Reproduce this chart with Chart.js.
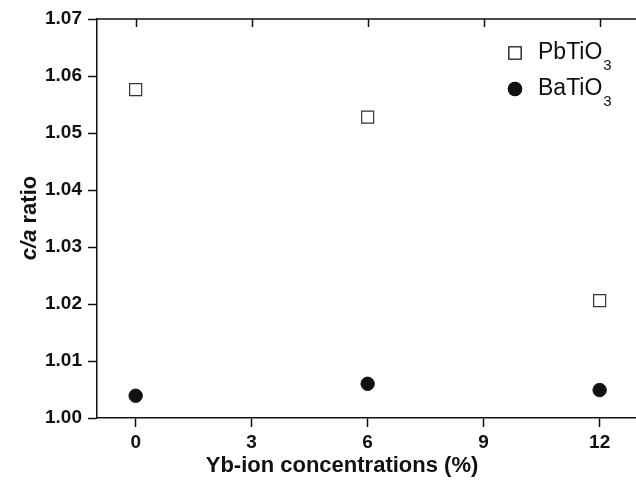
<!DOCTYPE html>
<html>
<head>
<meta charset="utf-8">
<script src="https://cdn.jsdelivr.net/npm/chart.js@4"></script>
<style>
  html, body { margin: 0; padding: 0; background: #fff; overflow: hidden; }
  #wrap { width: 648px; height: 493px; }
</style>
</head>
<body>
<div id="wrap"><canvas id="chart" width="648" height="493"></canvas></div>
<script>
// data
const concentrations = [0, 6, 12];
const pbTiO3 = [1.0576, 1.0528, 1.0206];
const baTiO3 = [1.0039, 1.0060, 1.0049];
const xTicks = [0, 3, 6, 9, 12];
const yTicks = [1.00, 1.01, 1.02, 1.03, 1.04, 1.05, 1.06, 1.07];

const FONT = "'Liberation Sans', Arial, Helvetica, sans-serif";

function points(ys) {
  return concentrations.map((c, i) => ({ x: c, y: ys[i] }));
}

// top frame with inward ticks, axis titles and the legend
const decorations = {
  id: 'decorations',
  afterDraw(chart) {
    const ctx = chart.ctx;
    const area = chart.chartArea;
    const xs = chart.scales.x;
    ctx.save();
    ctx.strokeStyle = '#111';
    ctx.lineWidth = 1.5;
    ctx.beginPath();
    ctx.moveTo(area.left, area.top);
    ctx.lineTo(area.right, area.top);
    xTicks.forEach(v => {
      const px = Math.round(xs.getPixelForValue(v)) + 0.5;
      ctx.moveTo(px, area.top);
      ctx.lineTo(px, area.top + 8);
    });
    ctx.stroke();

    // x title
    ctx.fillStyle = '#111';
    ctx.textAlign = 'center';
    ctx.textBaseline = 'middle';
    ctx.font = 'bold 22px ' + FONT;
    ctx.fillText('Yb-ion concentrations (%)', 342, 466);

    // y title, "c/a" in italic
    ctx.save();
    ctx.translate(30, 218);
    ctx.rotate(-Math.PI / 2);
    ctx.textAlign = 'left';
    const it = 'italic bold 22px ' + FONT;
    const bd = 'bold 22px ' + FONT;
    ctx.font = it;
    const w1 = ctx.measureText('c/a').width;
    ctx.font = bd;
    const w2 = ctx.measureText(' ratio').width;
    let x0 = -(w1 + w2) / 2;
    ctx.font = it;
    ctx.fillText('c/a', x0, 0);
    ctx.font = bd;
    ctx.fillText(' ratio', x0 + w1, 0);
    ctx.restore();

    // legend
    const items = [
      { name: 'PbTiO', ds: chart.data.datasets[0], y: 53 },
      { name: 'BaTiO', ds: chart.data.datasets[1], y: 89 }
    ];
    items.forEach(it2 => {
      Chart.helpers.drawPoint(ctx, {
        pointStyle: it2.ds.pointStyle,
        radius: it2.ds.pointRadius,
        borderWidth: it2.ds.borderWidth
      }, 515, it2.y);
      ctx.fillStyle = it2.ds.backgroundColor;
      ctx.strokeStyle = it2.ds.borderColor;
      ctx.lineWidth = it2.ds.borderWidth;
      ctx.fill();
      ctx.stroke();
      ctx.fillStyle = '#111';
      ctx.textAlign = 'left';
      ctx.textBaseline = 'middle';
      ctx.font = '23px ' + FONT;
      ctx.fillText(it2.name, 538, it2.y);
      const w = ctx.measureText(it2.name).width;
      ctx.font = '15px ' + FONT;
      ctx.fillText('3', 538 + w + 1, it2.y + 13);
    });
    ctx.restore();
  }
};

new Chart(document.getElementById('chart').getContext('2d'), {
  type: 'scatter',
  data: {
    datasets: [{
      label: 'PbTiO3',
      data: points(pbTiO3),
      pointStyle: 'rect',
      pointRadius: 8.5,
      backgroundColor: '#fff',
      borderColor: '#333',
      borderWidth: 1.2
    }, {
      label: 'BaTiO3',
      data: points(baTiO3),
      pointStyle: 'circle',
      pointRadius: 6.7,
      backgroundColor: '#111',
      borderColor: '#111',
      borderWidth: 1
    }]
  },
  options: {
    responsive: false,
    animation: false,
    layout: { padding: { top: 19, right: 2, left: 0, bottom: 0 } },
    plugins: {
      legend: { display: false },
      tooltip: { enabled: false }
    },
    scales: {
      x: {
        type: 'linear',
        min: -1,
        max: 13,
        afterBuildTicks: s => { s.ticks = xTicks.map(v => ({ value: v })); },
        afterFit: s => { s.height = 75; },
        border: { display: true, color: '#111', width: 1.5 },
        grid: { drawOnChartArea: false, drawTicks: true, tickLength: 9, tickColor: '#111', tickWidth: 1.5 },
        ticks: {
          color: '#111',
          padding: 4,
          font: { family: FONT, size: 19, weight: 'bold' },
          callback: v => String(v)
        }
      },
      y: {
        type: 'linear',
        min: 1.00,
        max: 1.07,
        afterBuildTicks: s => { s.ticks = yTicks.map(v => ({ value: v })); },
        afterFit: s => { s.width = 97; },
        border: { display: true, color: '#111', width: 1.5 },
        grid: { drawOnChartArea: false, drawTicks: true, tickLength: 9, tickColor: '#111', tickWidth: 1.5 },
        ticks: {
          color: '#111',
          padding: 6,
          font: { family: FONT, size: 19, weight: 'bold' },
          callback: v => Number(v).toFixed(2)
        }
      }
    }
  },
  plugins: [decorations]
});
</script>
</body>
</html>
